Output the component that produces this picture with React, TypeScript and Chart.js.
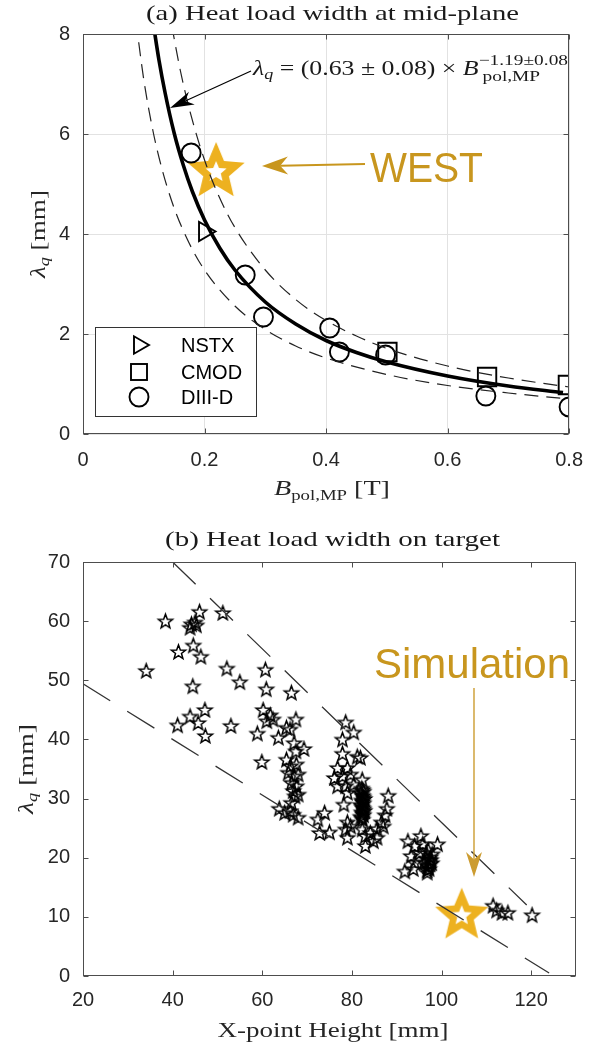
import React, { useEffect, useRef } from 'react';
import { Chart, registerables } from 'chart.js';

Chart.register(...registerables);

// ---------------- Panel (a) data ----------------
const nstxB = [0.2];
const nstxLambda = [4.05];
const cmodB = [0.501, 0.665, 0.798];
const cmodLambda = [1.64, 1.14, 0.98];
const diiidB = [0.178, 0.267, 0.297, 0.406, 0.422, 0.498, 0.663, 0.8];
const diiidLambda = [5.62, 3.18, 2.34, 2.12, 1.64, 1.58, 0.76, 0.54];
const westB = [0.219];
const westLambda = [5.24];

const fitB = [0.116, 0.125, 0.135, 0.15, 0.165, 0.18, 0.2, 0.225, 0.25, 0.3, 0.35, 0.4, 0.45, 0.5, 0.6, 0.7, 0.79];
const fitLambda = [8.18, 7.48, 6.83, 6.02, 5.38, 4.85, 4.28, 3.72, 3.28, 2.64, 2.2, 1.87, 1.63, 1.44, 1.16, 0.96, 0.83];
const upperB = [0.146, 0.16, 0.175, 0.2, 0.225, 0.25, 0.3, 0.35, 0.4, 0.45, 0.5, 0.6, 0.7, 0.8];
const upperLambda = [8.17, 7.28, 6.5, 5.48, 4.72, 4.13, 3.28, 2.69, 2.27, 1.96, 1.71, 1.36, 1.12, 0.94];
const lowerB = [0.087, 0.1, 0.115, 0.13, 0.15, 0.175, 0.2, 0.25, 0.3, 0.35, 0.4, 0.5, 0.6, 0.7, 0.8];
const lowerLambda = [8.27, 7.09, 6.07, 5.3, 4.52, 3.81, 3.28, 2.56, 2.09, 1.76, 1.52, 1.19, 0.97, 0.82, 0.7];

const xTicksA = [0, 0.2, 0.4, 0.6, 0.8];
const yTicksA = [0, 2, 4, 6, 8];

// ---------------- Panel (b) data ----------------
const xpointHeight = [
  34.1, 38.4, 41.3, 43.9, 44.2, 45.0, 45.3, 46.0, 44.6, 46.3, 51.2, 52.1, 44.5, 55.0, 47.2, 43.9, 45.7, 41.1, 47.3, 53.0,
  60.7, 60.9, 66.5, 60.2, 61.8, 61.0, 62.4, 67.5, 65.4, 66.2, 58.9, 63.6, 67.1, 69.3, 67.5, 59.9, 65.4, 66.3, 67.6, 65.8,
  67.1, 68.0, 66.5, 67.6, 66.9, 68.0, 67.3, 66.5, 66.2, 68.0, 66.9, 63.8, 65.0,
  72.4, 73.9, 72.8, 75.0,
  78.6, 80.4, 77.9, 77.9, 81.2, 81.9, 76.8, 79.0, 76.1, 77.9, 79.7, 82.3, 76.8, 78.6, 80.4, 79.0, 78.2, 79.0, 78.6, 79.0,
  79.7, 82.3, 83.0, 84.1, 84.8, 83.0, 85.6, 86.6, 87.4, 87.8, 88.1, 87.0, 85.6,
  82.2, 82.6, 82.2, 82.6, 82.2, 82.6, 82.2, 82.6, 82.2, 82.6, 82.2,
  82.4, 82.0, 82.4, 82.8, 82.4, 82.0, 82.4, 82.8, 82.4, 82.0, 82.4,
  92.5, 95.4, 99.1, 94.0, 95.8, 93.2, 95.1, 96.6, 97.3, 96.2, 96.9, 94.0, 91.8, 93.7, 96.8, 97.5, 97.8, 97.2, 96.5, 97.0,
  97.6, 97.1, 97.9, 96.8, 97.4,
  111.5, 112.3, 113.5, 114.8, 120.2,
];
const lambdaTarget = [
  51.5, 59.9, 54.7, 58.8, 59.4, 59.7, 59.2, 61.5, 55.8, 53.9, 61.3, 51.9, 48.9, 49.6, 44.9, 43.8, 42.7, 42.3, 40.5, 42.2,
  51.7, 48.4, 47.8, 44.9, 44.0, 43.0, 43.3, 43.3, 41.9, 41.6, 40.9, 40.2, 39.3, 38.3, 37.9, 36.1, 36.5, 35.4, 35.7, 34.3,
  33.7, 34.0, 32.6, 32.0, 31.2, 30.6, 30.3, 29.2, 27.8, 26.7, 27.2, 28.2, 27.5,
  26.4, 27.5, 24.1, 24.2,
  42.8, 41.1, 39.9, 37.5, 37.0, 36.8, 35.1, 35.1, 33.4, 33.7, 34.0, 33.1, 32.0, 32.0, 32.3, 30.9, 28.9, 25.9, 24.7, 23.3,
  25.2, 24.7, 23.6, 24.1, 22.7, 21.9, 24.8, 25.9, 27.1, 28.2, 30.4, 25.2, 23.3,
  31.6, 31.1, 30.6, 30.1, 29.6, 29.1, 28.6, 28.1, 27.6, 27.1, 26.6,
  31.35, 30.85, 30.35, 29.85, 29.35, 28.85, 28.35, 27.85, 27.35, 26.85, 26.35,
  22.7, 23.6, 22.2, 21.9, 22.2, 20.2, 20.7, 20.7, 19.6, 19.1, 18.5, 19.1, 17.6, 18.0, 17.4, 20.0, 19.0, 18.0, 19.8, 21.2,
  19.5, 18.3, 20.5, 17.8, 18.8,
  11.8, 11.0, 10.6, 10.6, 10.2,
];
const simHeight = [104.5];
const simLambda = [10.2];
const upperH = [40, 119];
const upperL = [70, 12];
const lowerH = [20, 124];
const lowerL = [49.4, 0.5];

const xTicksB = [20, 40, 60, 80, 100, 120];
const yTicksB = [0, 10, 20, 30, 40, 50, 60, 70];

// ---------------- styling helpers ----------------
const SERIF = '"Liberation Serif", "Times New Roman", serif';
const SANS = '"Liberation Sans", Arial, Helvetica, sans-serif';
const GOLD = '#EDB120';
const GOLD_TEXT = '#C8961E';
const AXIS_TEXT = '#262626';
const BOX = '#4d4d4d';

const pts = (xs: number[], ys: number[]) => xs.map((x, i) => ({ x, y: ys[i] }));

function starPath(ctx: CanvasRenderingContext2D, cx: number, cy: number, R: number, r: number) {
  ctx.beginPath();
  for (let i = 0; i < 10; i++) {
    const ang = -Math.PI / 2 + (i * Math.PI) / 5;
    const rad = i % 2 === 0 ? R : r;
    const x = cx + rad * Math.cos(ang);
    const y = cy + rad * Math.sin(ang);
    if (i === 0) ctx.moveTo(x, y);
    else ctx.lineTo(x, y);
  }
  ctx.closePath();
}

function outlineStar(R: number, ratio: number, lw: number, color: string) {
  const size = Math.ceil(2 * R + 4 * lw + 4);
  const c = document.createElement('canvas');
  c.width = size;
  c.height = size;
  const ctx = c.getContext('2d')!;
  ctx.lineJoin = 'miter';
  ctx.lineWidth = lw;
  ctx.strokeStyle = color;
  starPath(ctx, size / 2, size / 2, R, R * ratio);
  ctx.stroke();
  return c;
}

function thickStar(R: number, ratio: number, holeR: number, holeRatio: number, color: string) {
  const size = Math.ceil(2 * R + 4);
  const c = document.createElement('canvas');
  c.width = size;
  c.height = size;
  const ctx = c.getContext('2d')!;
  ctx.fillStyle = color;
  starPath(ctx, size / 2, size / 2, R, R * ratio);
  ctx.fill();
  ctx.fillStyle = '#ffffff';
  starPath(ctx, size / 2, size / 2, holeR, holeR * holeRatio);
  ctx.fill();
  return c;
}

type Txt = { text: string; font: string; dy?: number };
type Part = Txt | { sup: Txt; sub: Txt };

function partWidth(ctx: CanvasRenderingContext2D, p: Part) {
  if ('sup' in p) {
    ctx.font = p.sup.font;
    const a = ctx.measureText(p.sup.text).width;
    ctx.font = p.sub.font;
    const b = ctx.measureText(p.sub.text).width;
    return Math.max(a, b);
  }
  ctx.font = p.font;
  return ctx.measureText(p.text).width;
}

function drawParts(
  ctx: CanvasRenderingContext2D,
  parts: Part[],
  x: number,
  y: number,
  align: 'left' | 'center',
  targetWidth: number | null,
  color: string,
  angle = 0
) {
  ctx.save();
  const widths = parts.map((p) => partWidth(ctx, p));
  const w = widths.reduce((s, v) => s + v, 0);
  const sx = targetWidth ? targetWidth / w : 1;
  ctx.translate(x, y);
  if (angle) ctx.rotate(angle);
  ctx.scale(sx, 1);
  ctx.fillStyle = color;
  ctx.textAlign = 'left';
  ctx.textBaseline = 'alphabetic';
  let cx = align === 'center' ? -w / 2 : 0;
  parts.forEach((p, i) => {
    if ('sup' in p) {
      ctx.font = p.sup.font;
      ctx.fillText(p.sup.text, cx, p.sup.dy || 0);
      ctx.font = p.sub.font;
      ctx.fillText(p.sub.text, cx + 3, p.sub.dy || 0);
    } else {
      ctx.font = p.font;
      ctx.fillText(p.text, cx, p.dy || 0);
    }
    cx += widths[i];
  });
  ctx.restore();
}

function arrow(
  ctx: CanvasRenderingContext2D,
  x1: number,
  y1: number,
  x2: number,
  y2: number,
  color: string,
  lw: number,
  len: number,
  half: number
) {
  const ang = Math.atan2(y2 - y1, x2 - x1);
  const cs = Math.cos(ang);
  const sn = Math.sin(ang);
  const nx = x2 - cs * len * 0.7;
  const ny = y2 - sn * len * 0.7;
  const bx = x2 - cs * len;
  const by = y2 - sn * len;
  ctx.save();
  ctx.strokeStyle = color;
  ctx.fillStyle = color;
  ctx.lineWidth = lw;
  ctx.beginPath();
  ctx.moveTo(x1, y1);
  ctx.lineTo(nx, ny);
  ctx.stroke();
  ctx.beginPath();
  ctx.moveTo(x2, y2);
  ctx.lineTo(bx - sn * half, by + cs * half);
  ctx.lineTo(nx, ny);
  ctx.lineTo(bx + sn * half, by - cs * half);
  ctx.closePath();
  ctx.fill();
  ctx.restore();
}

function boxAndTicks(chart: any, xTicks: number[], yTicks: number[]) {
  const { ctx, chartArea: a, scales } = chart;
  ctx.save();
  ctx.strokeStyle = BOX;
  ctx.lineWidth = 1;
  const L = Math.round(a.left) + 0.5;
  const R = Math.round(a.right) - 0.5;
  const T = Math.round(a.top) + 0.5;
  const B = Math.round(a.bottom) - 0.5;
  ctx.strokeRect(L, T, R - L, B - T);
  const tl = 5;
  ctx.beginPath();
  xTicks.forEach((v) => {
    const x = Math.round(scales.x.getPixelForValue(v)) + 0.5;
    ctx.moveTo(x, B);
    ctx.lineTo(x, B - tl);
    ctx.moveTo(x, T);
    ctx.lineTo(x, T + tl);
  });
  yTicks.forEach((v) => {
    const y = Math.round(scales.y.getPixelForValue(v)) + 0.5;
    ctx.moveTo(L, y);
    ctx.lineTo(L + tl, y);
    ctx.moveTo(R, y);
    ctx.lineTo(R - tl, y);
  });
  ctx.stroke();
  ctx.restore();
}

const tickFont = { family: SANS, size: 20 };

const decorA = {
  id: 'decorA',
  afterDraw(chart: any) {
    const ctx: CanvasRenderingContext2D = chart.ctx;
    boxAndTicks(chart, xTicksA, yTicksA);
    drawParts(ctx, [{ text: '(a) Heat load width at mid-plane', font: `22px ${SERIF}` }], 332.5, 20, 'center', 373, '#1a1a1a');
    drawParts(
      ctx,
      [
        { text: 'B', font: `italic 21px ${SERIF}` },
        { text: 'pol,MP', font: `14px ${SERIF}`, dy: 5 },
        { text: ' [T]', font: `21px ${SERIF}` },
      ],
      332,
      495,
      'center',
      116,
      AXIS_TEXT
    );
    drawParts(
      ctx,
      [
        { text: 'λ', font: `italic 21px ${SERIF}` },
        { text: 'q', font: `italic 14px ${SERIF}`, dy: 4 },
        { text: ' [mm]', font: `21px ${SERIF}` },
      ],
      45,
      234,
      'center',
      88,
      AXIS_TEXT,
      -Math.PI / 2
    );
    drawParts(
      ctx,
      [
        { text: 'λ', font: `italic 20px ${SERIF}` },
        { text: 'q', font: `italic 14px ${SERIF}`, dy: 4 },
        { text: ' = (0.63 ± 0.08) × ', font: `20px ${SERIF}` },
        { text: 'B', font: `italic 20px ${SERIF}` },
        { sup: { text: '−1.19±0.08', font: `15px ${SERIF}`, dy: -10 }, sub: { text: 'pol,MP', font: `15px ${SERIF}`, dy: 6 } },
      ],
      253,
      75,
      'left',
      315,
      '#1a1a1a'
    );
    arrow(ctx, 251, 71, 170, 108, '#000', 1.2, 24, 7);
    drawParts(ctx, [{ text: 'WEST', font: `42px ${SANS}` }], 370, 182, 'left', 113, GOLD_TEXT);
    arrow(ctx, 365, 164, 262, 166, GOLD_TEXT, 2, 26, 9);

    // legend
    ctx.save();
    ctx.fillStyle = '#fff';
    ctx.fillRect(95.5, 327.5, 161, 89);
    ctx.strokeStyle = '#333';
    ctx.lineWidth = 1;
    ctx.strokeRect(95.5, 327.5, 161, 89);
    ctx.strokeStyle = '#000';
    ctx.lineWidth = 1.9;
    ctx.beginPath();
    ctx.moveTo(149, 345);
    ctx.lineTo(134, 336.3);
    ctx.lineTo(134, 353.7);
    ctx.closePath();
    ctx.stroke();
    ctx.strokeRect(131, 364, 16, 16);
    ctx.beginPath();
    ctx.arc(139, 397, 9.5, 0, Math.PI * 2);
    ctx.stroke();
    ctx.fillStyle = '#000';
    ctx.font = `20px ${SANS}`;
    ctx.textBaseline = 'middle';
    ctx.textAlign = 'left';
    ctx.fillText('NSTX', 181, 346);
    ctx.fillText('CMOD', 181, 373);
    ctx.fillText('DIII-D', 181, 398);
    ctx.restore();
  },
};

const decorB = {
  id: 'decorB',
  afterDraw(chart: any) {
    const ctx: CanvasRenderingContext2D = chart.ctx;
    boxAndTicks(chart, xTicksB, yTicksB);
    drawParts(ctx, [{ text: '(b) Heat load width on target', font: `22px ${SERIF}` }], 332.5, 26, 'center', 335, '#1a1a1a');
    drawParts(ctx, [{ text: 'X-point Height [mm]', font: `22px ${SERIF}` }], 333, 517, 'center', 231, AXIS_TEXT);
    drawParts(
      ctx,
      [
        { text: 'λ', font: `italic 21px ${SERIF}` },
        { text: 'q', font: `italic 14px ${SERIF}`, dy: 4 },
        { text: ' [mm]', font: `21px ${SERIF}` },
      ],
      33,
      249,
      'center',
      90,
      AXIS_TEXT,
      -Math.PI / 2
    );
    drawParts(ctx, [{ text: 'Simulation', font: `42px ${SANS}` }], 472, 158, 'center', 196, GOLD_TEXT);
    arrow(ctx, 474, 168, 474, 357, '#CC9C30', 1.4, 25, 8);
  },
};

function configA(westStar: HTMLCanvasElement): any {
  return {
    type: 'scatter',
    data: {
      datasets: [
        {
          label: 'upper bound',
          data: pts(upperB, upperLambda),
          showLine: true,
          borderColor: '#222',
          borderWidth: 1.2,
          borderDash: [14, 8],
          pointRadius: 0,
          cubicInterpolationMode: 'monotone',
        },
        {
          label: 'lower bound',
          data: pts(lowerB, lowerLambda),
          showLine: true,
          borderColor: '#222',
          borderWidth: 1.2,
          borderDash: [14, 8],
          pointRadius: 0,
          cubicInterpolationMode: 'monotone',
        },
        {
          label: 'fit',
          data: pts(fitB, fitLambda),
          showLine: true,
          borderColor: '#000',
          borderWidth: 3.6,
          pointRadius: 0,
          cubicInterpolationMode: 'monotone',
        },
        {
          label: 'NSTX',
          data: pts(nstxB, nstxLambda),
          pointStyle: 'triangle',
          rotation: 90,
          pointRadius: 11,
          borderColor: '#000',
          borderWidth: 1.9,
          backgroundColor: 'rgba(0,0,0,0)',
        },
        {
          label: 'CMOD',
          data: pts(cmodB, cmodLambda),
          pointStyle: 'rect',
          pointRadius: 13,
          borderColor: '#000',
          borderWidth: 1.9,
          backgroundColor: 'rgba(0,0,0,0)',
        },
        {
          label: 'DIII-D',
          data: pts(diiidB, diiidLambda),
          pointStyle: 'circle',
          pointRadius: 9.5,
          borderColor: '#000',
          borderWidth: 1.9,
          backgroundColor: 'rgba(0,0,0,0)',
        },
        {
          label: 'WEST',
          data: pts(westB, westLambda),
          pointStyle: westStar,
          pointRadius: 20,
        },
      ],
    },
    options: {
      responsive: false,
      maintainAspectRatio: false,
      animation: false,
      devicePixelRatio: 1,
      events: [],
      layout: { padding: { top: 34, right: 16, left: 0, bottom: 0 } },
      plugins: { legend: { display: false }, tooltip: { enabled: false }, title: { display: false } },
      scales: {
        x: {
          type: 'linear',
          min: 0,
          max: 0.8,
          afterBuildTicks: (s: any) => {
            s.ticks = xTicksA.map((v) => ({ value: v }));
          },
          afterFit: (s: any) => {
            s.height = 86;
          },
          ticks: { font: tickFont, color: AXIS_TEXT, padding: 14, maxRotation: 0, autoSkip: false },
          grid: { color: '#e2e2e2', lineWidth: 1, drawTicks: false },
          border: { display: false },
        },
        y: {
          type: 'linear',
          min: 0,
          max: 8,
          afterBuildTicks: (s: any) => {
            s.ticks = yTicksA.map((v) => ({ value: v }));
          },
          afterFit: (s: any) => {
            s.width = 83;
          },
          ticks: { font: tickFont, color: AXIS_TEXT, padding: 13, autoSkip: false },
          grid: { color: '#e2e2e2', lineWidth: 1, drawTicks: false },
          border: { display: false },
        },
      },
    },
    plugins: [decorA],
  };
}

function configB(blackStar: HTMLCanvasElement, simStar: HTMLCanvasElement): any {
  return {
    type: 'scatter',
    data: {
      datasets: [
        {
          label: 'upper envelope',
          data: pts(upperH, upperL),
          showLine: true,
          borderColor: '#333',
          borderWidth: 1.3,
          borderDash: [32, 20],
          pointRadius: 0,
        },
        {
          label: 'lower envelope',
          data: pts(lowerH, lowerL),
          showLine: true,
          borderColor: '#333',
          borderWidth: 1.3,
          borderDash: [32, 20],
          pointRadius: 0,
        },
        {
          label: 'experiments',
          data: pts(xpointHeight, lambdaTarget),
          pointStyle: blackStar,
          pointRadius: 6,
        },
        {
          label: 'Simulation',
          data: pts(simHeight, simLambda),
          pointStyle: simStar,
          pointRadius: 20,
        },
      ],
    },
    options: {
      responsive: false,
      maintainAspectRatio: false,
      animation: false,
      devicePixelRatio: 1,
      events: [],
      layout: { padding: { top: 42, right: 13, left: 0, bottom: 0 } },
      plugins: { legend: { display: false }, tooltip: { enabled: false }, title: { display: false } },
      scales: {
        x: {
          type: 'linear',
          min: 20,
          max: 130,
          afterBuildTicks: (s: any) => {
            s.ticks = xTicksB.map((v) => ({ value: v }));
          },
          afterFit: (s: any) => {
            s.height = 72;
          },
          ticks: { font: tickFont, color: AXIS_TEXT, padding: 12, maxRotation: 0, autoSkip: false },
          grid: { display: false, drawTicks: false },
          border: { display: false },
        },
        y: {
          type: 'linear',
          min: 0,
          max: 70,
          afterBuildTicks: (s: any) => {
            s.ticks = yTicksB.map((v) => ({ value: v }));
          },
          afterFit: (s: any) => {
            s.width = 83;
          },
          ticks: { font: tickFont, color: AXIS_TEXT, padding: 13, autoSkip: false },
          grid: { display: false, drawTicks: false },
          border: { display: false },
        },
      },
    },
    plugins: [decorB],
  };
}

export default function App() {
  const refA = useRef<HTMLCanvasElement>(null);
  const refB = useRef<HTMLCanvasElement>(null);

  useEffect(() => {
    const westStar = thickStar(30, 0.45, 11, 0.45, GOLD);
    const simStar = thickStar(28, 0.45, 10.5, 0.45, GOLD);
    const blackStar = outlineStar(7.5, 0.42, 1.5, '#000');
    const cA = new Chart(refA.current!, configA(westStar));
    const cB = new Chart(refB.current!, configB(blackStar, simStar));
    return () => {
      cA.destroy();
      cB.destroy();
    };
  }, []);

  return (
    <div style={{ position: 'absolute', left: 0, top: 0, width: 597, height: 1048, background: '#fff' }}>
      <canvas
        ref={refA}
        width={597}
        height={520}
        style={{ position: 'absolute', left: 0, top: 0, width: 597, height: 520 }}
      />
      <canvas
        ref={refB}
        width={597}
        height={528}
        style={{ position: 'absolute', left: 0, top: 520, width: 597, height: 528 }}
      />
    </div>
  );
}
